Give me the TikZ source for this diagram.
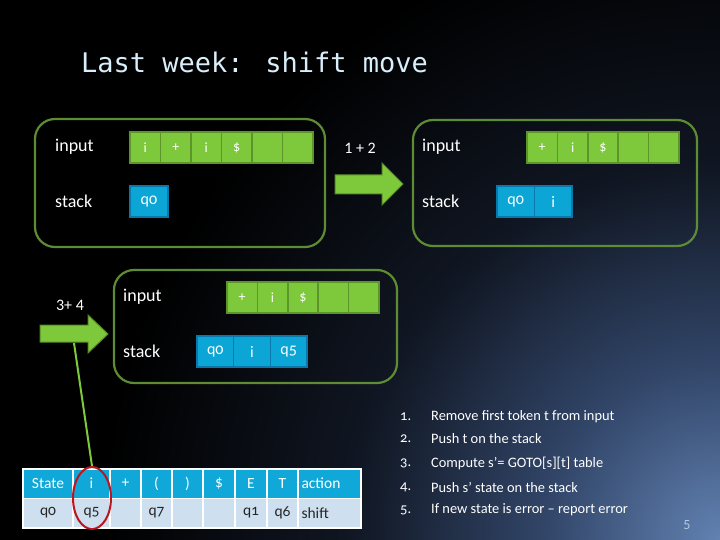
\documentclass[tikz,border=0pt]{standalone}
\usepackage{fontspec}
\setmainfont{Carlito}[Numbers=OldStyle]
\newfontfamily\lining{Carlito}
\newfontfamily\mono{DejaVu Sans Mono}
\usetikzlibrary{shapes.geometric}
\definecolor{boxgreen}{RGB}{94,140,52}
\definecolor{cellgreen}{RGB}{126,200,60}
\definecolor{cellgreenb}{RGB}{92,150,42}
\definecolor{cellblue}{RGB}{12,166,214}
\definecolor{cellblueb}{RGB}{10,120,170}
\definecolor{arrgreenb}{RGB}{90,140,40}
\definecolor{tblhead}{RGB}{16,168,216}
\definecolor{tblrow}{RGB}{206,224,240}
\definecolor{ellred}{RGB}{190,20,30}
\definecolor{titlecol}{RGB}{216,238,250}
\definecolor{bgblue}{RGB}{98,130,178}
\definecolor{bgmid}{RGB}{50,70,105}
\definecolor{bgdark}{RGB}{16,22,34}
\definecolor{pagenum}{RGB}{180,200,225}
\pgfdeclareradialshading{bgrad}{\pgfpointorigin}{color(0bp)=(bgblue); color(7bp)=(bgmid); color(15bp)=(bgdark); color(25bp)=(black); color(50bp)=(black)}
\tikzset{
  panel/.style={draw=boxgreen, line width=2.2pt, rounded corners=20pt, inner sep=0pt},
  incell/.style={draw=cellgreenb, fill=cellgreen, line width=1.5pt, minimum width=30.4pt, minimum height=31pt, inner sep=0pt, text=white, font=\fontsize{14}{16}\selectfont},
  stcell/.style={draw=cellblueb, fill=cellblue, line width=1.2pt, minimum height=31pt, inner sep=0pt, text=white, font=\fontsize{16}{18}\selectfont},
  lbl/.style={text=white, anchor=west, inner sep=0pt, font=\fontsize{18}{20}\selectfont},
  bigarrow/.style={fill=cellgreen, draw=arrgreenb, line width=1pt},
  arrlbl/.style={text=white, inner sep=0pt, font=\lining\fontsize{16}{18}\selectfont},
  thcell/.style={fill=tblhead, draw=white, line width=1.5pt, minimum height=29.5pt, inner sep=0pt, text=white, font=\fontsize{15.5}{17}\selectfont},
  tdcell/.style={fill=tblrow, draw=white, line width=1.5pt, minimum height=29.5pt, inner sep=0pt, text=black!85, font=\fontsize{15.5}{17}\selectfont},
  listnum/.style={text=white, anchor=west, inner sep=0pt, font=\fontsize{14.5}{16}\selectfont},
  listtxt/.style={text=white, anchor=west, inner sep=0pt, font=\fontsize{14.4}{16}\selectfont}
}
\begin{document}
\begin{tikzpicture}[x=1pt,y=-1pt]
\useasboundingbox (0,0) rectangle (720,540);
\fill[black] (0,0) rectangle (720,540);
\begin{scope}
\clip (0,0) rectangle (720,540);
\shade[shading=bgrad] (720,540) circle (620);
\end{scope}

% title
\node[anchor=base west, inner sep=0pt, text=titlecol, font=\mono\fontsize{27}{30}\selectfont] (title) at (81,73) {Last week: shift move};

% panel 1
\node[panel, minimum width=290pt, minimum height=128pt] (box1) at (180,183) {};
\node[lbl] (in1) at (55,147) {input};
\node[lbl] (st1) at (55,201) {stack};
\foreach \t [count=\k from 0] in {i,+,i,\$,{},{}}
  \node[incell, minimum width=30.5pt] (a\k) at ({145.25+\k*30.5},147.5) {\t};
\node[stcell, minimum width=38pt] (as0) at (149,201.5) {q0};

% arrow 1
\draw[bigarrow] (335,175) -- (382,175) -- (382,163) -- (403,184) -- (382,205) -- (382,194) -- (335,194) -- cycle;
\node[arrlbl] (lab12) at (360,148) {1 + 2};

% panel 2
\node[panel, minimum width=284pt, minimum height=126pt] (box2) at (555,183) {};
\node[lbl] (in2) at (422,147) {input};
\node[lbl] (st2) at (422,201) {stack};
\foreach \t [count=\k from 0] in {+,i,\$,{},{}}
  \node[incell] (b\k) at ({542.2+\k*30.4},147.5) {\t};
\node[stcell, minimum width=37.5pt] (bs0) at (515.75,201.5) {q0};
\node[stcell, minimum width=37.5pt] (bs1) at (553.25,201.5) {i};

% arrow 2
\draw[bigarrow] (40,325) -- (88,325) -- (88,315) -- (108,334) -- (88,353) -- (88,342) -- (40,342) -- cycle;
\node[arrlbl] (lab34) at (70,305) {3+ 4};
\coordinate (lnA) at (74,343);

% panel 3
\node[panel, minimum width=283pt, minimum height=113pt] (box3) at (255.5,326.5) {};
\node[lbl] (in3) at (123,297) {input};
\node[lbl] (st3) at (123,351) {stack};
\foreach \t [count=\k from 0] in {+,i,\$,{},{}}
  \node[incell] (c\k) at ({242.2+\k*30.4},297.5) {\t};
\foreach \t [count=\k from 0] in {q0,i,q5}
  \node[stcell, minimum width=36.67pt] (cs\k) at ({215.33+\k*36.67},351.5) {\t};

% table
\foreach \l/\r/\h/\v/\n in {23/73/State/q0/1, 73/110/i/q5/2, 110/141/+/{}/3, 141/172/(/q7/4, 172/203/)/{}/5, 203/235/\$/{}/6, 235/267/E/q1/7, 267/298/T/q6/8}{
  \node[thcell, minimum width={(\r-\l)*1pt}] (th\n) at ({(\l+\r)/2},483.5) {\h};
  \node[tdcell, minimum width={(\r-\l)*1pt}] (td\n) at ({(\l+\r)/2},513) {\v};
}
\node[thcell, minimum width=63pt, text width=56pt, align=left] (th9) at (329.5,483.5) {action};
\node[tdcell, minimum width=63pt, text width=56pt, align=left] (td9) at (329.5,513) {shift};

% red ellipse and link
\node[ellipse, draw=ellred, line width=2pt, minimum width=38pt, minimum height=62pt, inner sep=0pt] (ell) at (92,498) {};
\draw[cellgreen, line width=2pt] (lnA) -- (ell.north);

% list
\foreach \y/\n/\t in {417/1/Remove first token t from input, 439/2/Push t on the stack, 463/3/{Compute s'= GOTO[s][t] table}, 487/4/Push s' state on the stack, 510/5/If new state is error -- report error}{
  \node[listnum] (n\n) at (400,\y) {\n.};
  \node[listtxt] (l\n) at (431,\y) {\t};
}
\node[text=pagenum, inner sep=0pt, font=\lining\fontsize{14}{16}\selectfont] (pg) at (687,525) {5};
\end{tikzpicture}
\end{document}
